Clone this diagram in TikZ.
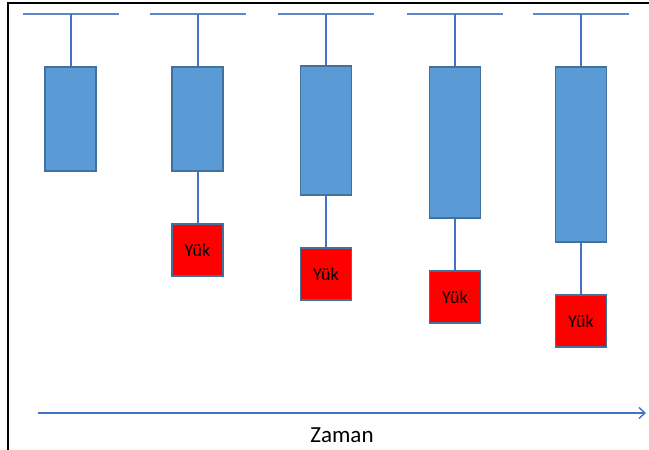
\documentclass[tikz,border=0pt]{standalone}
\usepackage{fontspec}
\setmainfont{Carlito}
\usetikzlibrary{arrows.meta}
\begin{document}
\begin{tikzpicture}[x=1pt,y=-1pt,
  bluebox/.style={draw=bordblue,fill=fillblue,line width=1.4pt,inner sep=0pt,minimum width=51pt},
  redbox/.style={draw=bordblue,fill=red,line width=1.4pt,inner sep=0pt,minimum width=51pt,minimum height=52pt,font=\fontsize{18}{20}\selectfont},
  link/.style={draw=lineblue,line width=2pt},
  bar/.style={draw=lineblue!85,line width=2.4pt}]
\definecolor{fillblue}{HTML}{5B9BD5}
\definecolor{bordblue}{HTML}{41719C}
\definecolor{lineblue}{HTML}{4472C4}
\useasboundingbox (0,0) rectangle (649,450);
\fill[white] (0,0) rectangle (649,450);
\draw[black,line width=2pt] (8,450) -- (8,3) -- (649,3);
% bars
\foreach \i/\cx in {1/70.5,2/197.5,3/326,4/455,5/581}{
  \coordinate (bl\i) at (\cx-48,14);
  \coordinate (br\i) at (\cx+48,14);
  \coordinate (bc\i) at (\cx,14);
  \draw[bar] (bl\i) -- (br\i);
}
% blue boxes
\node[bluebox,minimum height=104pt] (b1) at (70.5,119) {};
\node[bluebox,minimum height=104pt] (b2) at (197.5,119) {};
\node[bluebox,minimum height=129pt] (b3) at (326,130.5) {};
\node[bluebox,minimum height=151pt] (b4) at (455,142.5) {};
\node[bluebox,minimum height=175pt] (b5) at (581,154.5) {};
% red boxes
\node[redbox] (r2) at (197.5,250) {Yük};
\node[redbox] (r3) at (326,274) {Yük};
\node[redbox] (r4) at (455,297) {Yük};
\node[redbox] (r5) at (581,321) {Yük};
% links
\foreach \i in {1,...,5}{ \draw[link] (bc\i) -- (b\i.north); }
\foreach \i in {2,...,5}{ \draw[link] (b\i.south) -- (r\i.north); }
% time axis
\coordinate (t0) at (38,413);
\coordinate (t1) at (646,413);
\draw[lineblue,line width=1.4pt,-{Straight Barb[length=6pt,width=11pt]}] (t0) -- (t1);
\node[font=\fontsize{23}{26}\selectfont] (zaman) at (342,435) {Zaman};
\end{tikzpicture}
\end{document}
